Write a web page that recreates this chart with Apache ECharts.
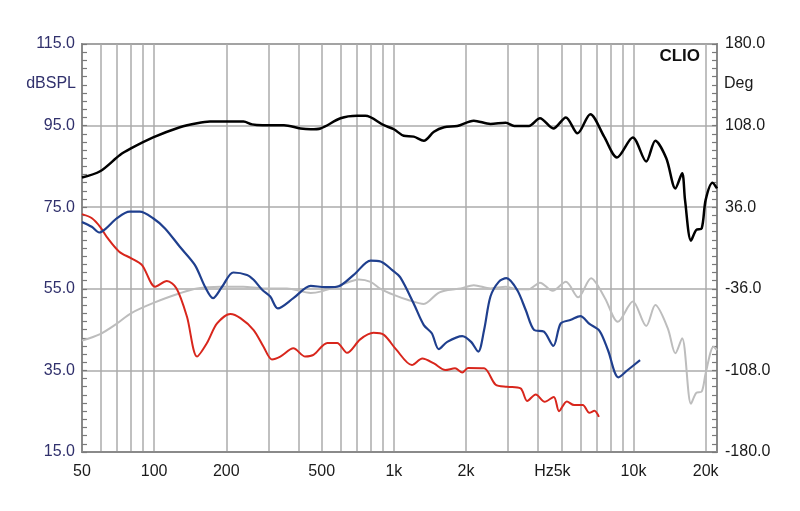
<!DOCTYPE html>
<html><head><meta charset="utf-8">
<script src="https://cdn.jsdelivr.net/npm/echarts@6/dist/echarts.min.js"></script>
<style>html,body{margin:0;padding:0;background:#fff}#c{width:800px;height:511px}</style>
</head><body><div id="c"></div>
<script>
// ---- axis labels / ticks ----
const xLabelValues = [50, 100, 200, 500, 1000, 2000, 5000, 10000, 20000];
const xLabelTexts  = ['50', '100', '200', '500', '1k', '2k', 'Hz5k', '10k', '20k'];
const xGridValues  = [50, 60, 70, 80, 90, 100, 200, 300, 400, 500, 600, 700, 800, 900,
                      1000, 2000, 3000, 4000, 5000, 6000, 7000, 8000, 9000, 10000, 20000];

// ---- series: black ----
const blackFreq = [50, 59.5, 72, 80, 99, 128, 151, 171, 200, 236, 256, 283, 348, 408, 450, 494,
  599, 703, 761, 909, 1000, 1100, 1210, 1334, 1470, 1620, 1840, 2155, 2530, 2930, 3180, 3660,
  4070, 4630, 5220, 5840, 6600, 7540, 8530, 9930, 11300, 12330, 13700, 14950, 15950, 16400,
  17370, 18270, 19250, 20000, 21350, 22300];
const blackDb = [82.3, 83.8, 87.8, 89.4, 92.1, 94.6, 95.6, 96.0, 96.0, 96.0, 95.3, 95.1, 95.1, 94.3, 94.1, 94.3,
  96.8, 97.4, 97.4, 95.1, 94.1, 92.5, 92.3, 91.3, 93.5, 94.6, 94.9, 96.2, 95.4, 95.7, 94.9, 94.9,
  96.8, 94.3, 97.0, 93.1, 97.8, 92.3, 87.2, 92.1, 86.2, 91.3, 87.0, 79.6, 83.3, 76.8,
  66.8, 69.4, 69.8, 76.8, 81.0, 79.6];

// ---- series: gray ----
const grayFreq = [50, 59.5, 70, 80, 100, 128, 151, 189, 236, 283, 358, 450, 494, 599, 715, 800,
  880, 1000, 1140, 1334, 1525, 1680, 1905, 2155, 2530, 2930, 3270, 3660, 4070, 4600, 5220, 5880,
  6650, 7600, 8600, 9930, 11300, 12330, 13900, 14950, 15950, 17370, 18270, 19250, 20000, 21560, 22300];
const grayDb = [42.3, 43.9, 46.5, 49.0, 51.6, 53.9, 55.1, 55.5, 55.5, 55.1, 55.1, 54.0, 54.3, 55.9, 57.3, 56.7,
  55.0, 53.5, 52.3, 51.3, 53.9, 54.7, 55.1, 55.9, 55.1, 55.5, 54.9, 54.9, 56.5, 54.5, 56.7, 52.9,
  57.6, 52.7, 46.9, 51.9, 45.9, 51.0, 45.3, 39.2, 42.9, 26.8, 29.5, 29.8, 34.3, 40.8, 40.0];

// ---- series: blue ----
const blueFreq = [50, 54.9, 59, 63, 70, 79, 87, 99, 111, 128, 148, 163, 176, 192, 214, 244, 260, 283,
  305, 328, 381, 450, 517, 580, 680, 800, 880, 985, 1064, 1210, 1334, 1440, 1540, 1670, 1930, 2100,
  2250, 2380, 2530, 2740, 2950, 3270, 3550, 3850, 4230, 4630, 4970, 5480, 6000, 6550, 7210, 7820,
  8650, 9460, 10650];
const blueDb = [71.4, 70.2, 68.8, 69.8, 72.3, 73.9, 73.9, 72.3, 69.8, 65.3, 60.8, 55.5, 52.7, 55.5, 59.0, 58.4, 57.2, 54.7,
  53.1, 50.2, 52.7, 55.7, 55.4, 55.5, 58.4, 61.9, 61.7, 59.6, 57.8, 51.4, 46.1, 44.1, 40.2, 42.0, 43.4, 42.0,
  39.6, 44.9, 53.1, 56.7, 57.6, 54.7, 49.8, 44.9, 44.5, 41.0, 46.5, 47.4, 48.3, 46.4, 44.7, 40.0,
  33.3, 35.1, 37.5];

// ---- series: red ----
const redFreq = [50, 55, 59.5, 64, 71.5, 80, 89, 101, 113, 124, 137, 151, 166, 183, 208, 229, 260, 286,
  310, 336, 381, 427, 462, 528, 580, 638, 724, 822, 909, 1020, 1190, 1315, 1470, 1640, 1800, 1930,
  2040, 2380, 2660, 2970, 3380, 3600, 3910, 4260, 4650, 4890, 5270, 5650, 6140, 6540, 6870, 7170];
const redDb = [73.3, 72.3, 70.2, 67.4, 64.1, 62.5, 60.8, 55.5, 56.9, 55.1, 48.2, 38.4, 41.7, 46.5, 48.8, 47.8, 44.9, 40.8,
  37.7, 38.4, 40.4, 38.4, 38.8, 41.7, 41.7, 39.3, 42.6, 44.2, 43.7, 40.2, 36.3, 37.9, 36.7, 35.1, 35.5, 34.5,
  35.6, 35.5, 31.5, 31.0, 30.6, 27.5, 29.1, 27.3, 28.5, 25.0, 27.4, 26.5, 26.5, 24.6, 25.1, 23.6];

const zip = (f, v) => f.map((x, i) => [x, v[i]]);

const chart = echarts.init(document.getElementById('c'), null, {renderer: 'canvas'});
const FONT = 'Liberation Sans, Arial, sans-serif';
const GRIDC = '#ababab';
const BORDER = '#8a8a8a';
const TICKC = '#7a7a7a';

function xLabel(v) {
  for (let i = 0; i < xLabelValues.length; i++) {
    if (Math.abs(v - xLabelValues[i]) / xLabelValues[i] < 1e-6) return xLabelTexts[i] === 'Hz5k' ? 'Hz5k{p|}' : xLabelTexts[i];
  }
  return '';
}

chart.setOption({
  animation: false,
  backgroundColor: '#ffffff',
  grid: {left: 82, right: 83, top: 44, bottom: 59, show: true, borderColor: BORDER, borderWidth: 2, containLabel: false},
  xAxis: {
    type: 'log', logBase: 10, min: 50, max: 22300,
    axisLine: {show: true, onZero: false, lineStyle: {color: BORDER, width: 2}},
    axisTick: {show: false, customValues: xGridValues},
    splitLine: {show: true, lineStyle: {color: GRIDC, width: 1.5}},
    axisLabel: {
      customValues: xLabelValues, formatter: xLabel, color: '#1a1a1a', fontFamily: FONT, fontSize: 16, margin: 12,
      rich: {p: {width: 18}}
    }
  },
  yAxis: [{
    type: 'value', min: 15, max: 115, interval: 20, position: 'left',
    axisLine: {show: true, onZero: false, lineStyle: {color: BORDER, width: 2}},
    axisTick: {show: true, inside: true, length: 5, lineStyle: {color: TICKC, width: 1.2}},
    minorTick: {show: true, splitNumber: 10, length: 5, lineStyle: {color: TICKC, width: 1.2}},
    splitLine: {show: true, lineStyle: {color: GRIDC, width: 1.5}},
    axisLabel: {formatter: v => v.toFixed(1), color: '#30306c', fontFamily: FONT, fontSize: 16, margin: 7}
  }, {
    type: 'value', min: -180, max: 180, interval: 72, position: 'right',
    axisLine: {show: true, onZero: false, lineStyle: {color: BORDER, width: 2}},
    axisTick: {show: true, inside: true, length: 5, lineStyle: {color: TICKC, width: 1.2}},
    minorTick: {show: true, splitNumber: 10, length: 5, lineStyle: {color: TICKC, width: 1.2}},
    splitLine: {show: false},
    axisLabel: {formatter: v => v.toFixed(1), color: '#1a1a1a', fontFamily: FONT, fontSize: 16, margin: 8}
  }],
  graphic: [
    {type: 'text', right: 800 - 76, top: 76, style: {text: 'dBSPL', font: '16px ' + FONT, fill: '#30306c'}},
    {type: 'text', left: 724, top: 76, style: {text: 'Deg', font: '16px ' + FONT, fill: '#1a1a1a'}},
    {type: 'text', right: 100, top: 48, style: {text: 'CLIO', font: 'bold 17px ' + FONT, fill: '#111'}}
  ],
  series: [
    {name: 'gray', type: 'line', yAxisIndex: 0, data: zip(grayFreq, grayDb), showSymbol: false, smooth: 0.3,
     lineStyle: {color: '#bdbdbd', width: 2}, z: 2},
    {name: 'black', type: 'line', yAxisIndex: 0, data: zip(blackFreq, blackDb), showSymbol: false, smooth: 0.3,
     lineStyle: {color: '#000000', width: 2.5}, z: 3},
    {name: 'red', type: 'line', yAxisIndex: 0, data: zip(redFreq, redDb), showSymbol: false, smooth: 0.3,
     lineStyle: {color: '#d8261c', width: 2}, z: 4},
    {name: 'blue', type: 'line', yAxisIndex: 0, data: zip(blueFreq, blueDb), showSymbol: false, smooth: 0.3,
     lineStyle: {color: '#1f3f8e', width: 2.2}, z: 5}
  ]
});
</script></body></html>
